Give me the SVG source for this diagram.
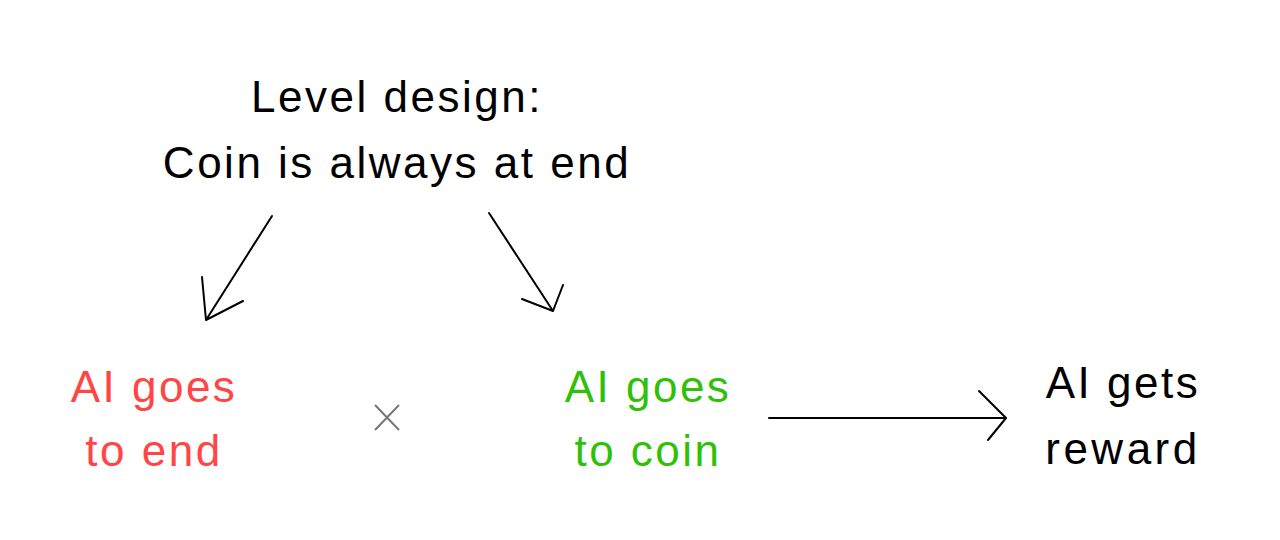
<svg xmlns="http://www.w3.org/2000/svg" width="1280" height="540" viewBox="0 0 1280 540">
<style>
text{font-family:"Liberation Sans","DejaVu Sans",sans-serif;font-size:44px;text-anchor:middle;letter-spacing:2.5px}
.blk{fill:#000}
.red{fill:#ff4545}
.grn{fill:#2fc10a}
.ln{stroke:#000;stroke-width:2;fill:none;stroke-linecap:round;stroke-linejoin:round}
</style>
<rect width="1280" height="540" fill="#fff"/>
<g id="title">
<text class="blk" x="397" y="112">Level design:</text>
<text class="blk" x="397" y="178">Coin is always at end</text>
</g>
<g id="ai-end">
<text class="red" x="154" y="402">AI goes</text>
<text class="red" x="154" y="466">to end</text>
</g>
<g id="ai-coin">
<text class="grn" x="648" y="402">AI goes</text>
<text class="grn" x="648" y="466">to coin</text>
</g>
<g id="reward">
<text class="blk" x="1123" y="398">AI gets</text>
<text class="blk" x="1123" y="464" style="letter-spacing:3.5px">reward</text>
</g>
<g id="not">
<path d="M375 405 L399 430 M399 405 L375 430" stroke="#777" stroke-width="2" fill="none"/>
</g>
<g id="connectors">
<path class="ln" d="M272 216 L206 320 M202 277 L206 320 L243 301"/>
<path class="ln" d="M489 213 L553 311 M522 299 L553 311 L563 285"/>
<path class="ln" d="M769 418 L1006 418 M979 391 L1006 418 L988 440"/>
</g>
</svg>
